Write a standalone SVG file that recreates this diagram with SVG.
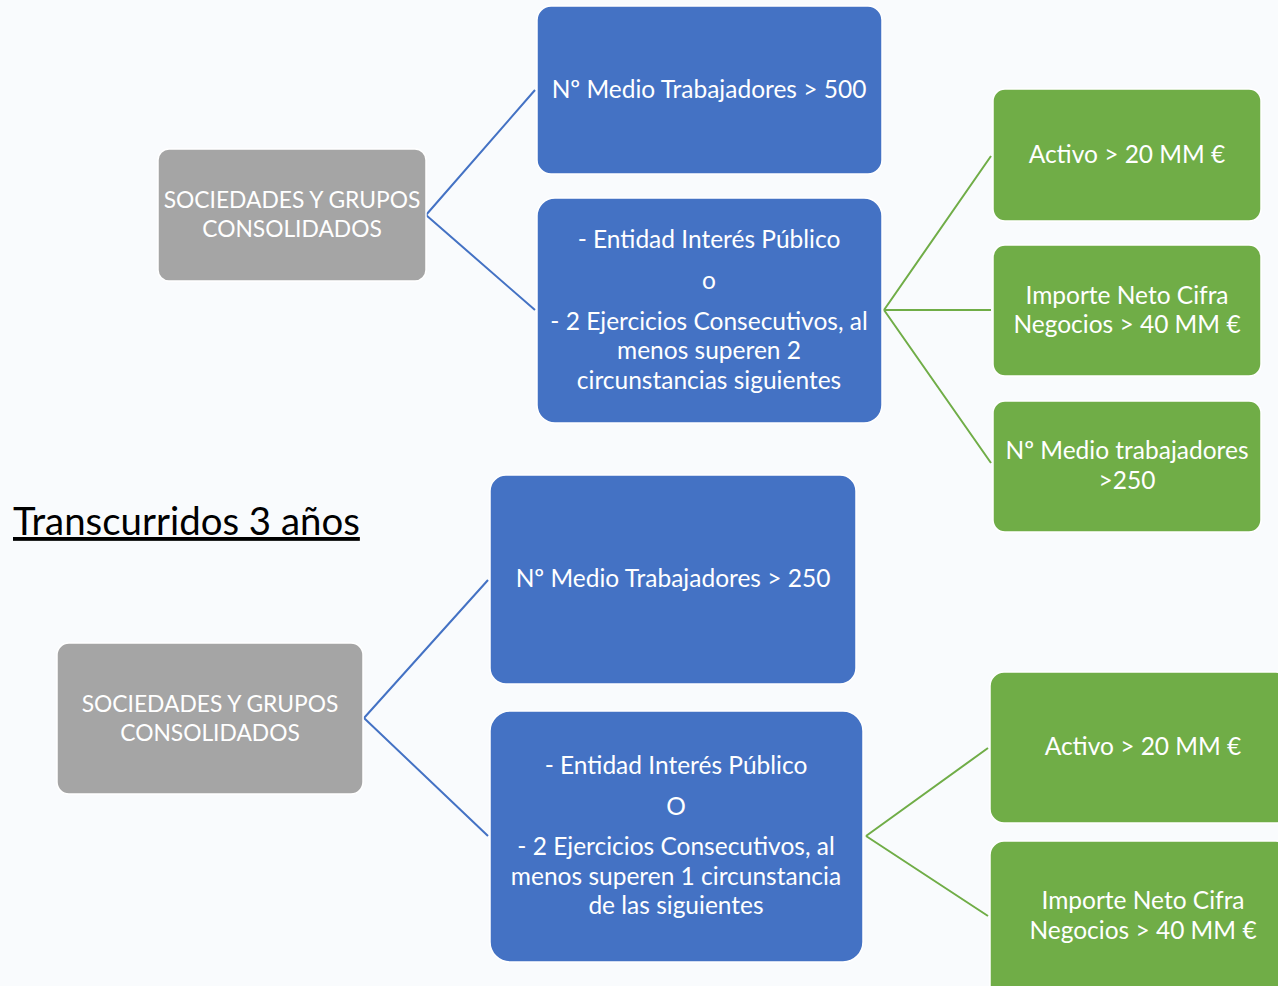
<svg xmlns="http://www.w3.org/2000/svg" width="1278" height="986" viewBox="0 0 1278 986">
<style>
.bg{fill:#f9fbfd}
.gray{fill:#a5a5a5;stroke:#ffffff;stroke-width:1.5}
.blue{fill:#4472c4;stroke:#ffffff;stroke-width:1.5}
.green{fill:#70ad47;stroke:#ffffff;stroke-width:1.5}
.t{font-family:Lato,"Liberation Sans",sans-serif;font-size:24.5px;fill:#ffffff;text-anchor:middle}
.tc{font-size:22.8px}
.cb{stroke:#4472c4;stroke-width:2;fill:none}
.cg{stroke:#70ad47;stroke-width:2;fill:none}
.title{font-family:Lato,"Liberation Sans",sans-serif;font-size:38.4px;fill:#000000;text-decoration:underline}
</style>
<rect class="bg" x="0" y="0" width="1278" height="986"/>
<g id="connectors">
<path class="cb" d="M426,215 L535,90 M426,215 L535,310"/>
<path class="cg" d="M884,310 L991,156 M884,310 L991,310 M884,310 L991,463"/>
<path class="cb" d="M364,718 L488,580 M364,718 L488,836"/>
<path class="cg" d="M866,836 L988,748 M866,836 L988,916"/>
</g>
<g id="top-root"><rect class="gray" x="158" y="149" width="268" height="132" rx="11"/>
<text class="t tc" x="292" y="208">SOCIEDADES Y GRUPOS</text><text class="t tc" x="292" y="237">CONSOLIDADOS</text></g>
<g id="top-b1"><rect class="blue" x="537" y="6" width="345" height="168" rx="14"/>
<text class="t" x="709" y="98">Nº Medio Trabajadores &gt; 500</text></g>
<g id="top-b2"><rect class="blue" x="537" y="198" width="345" height="225" rx="18"/>
<text class="t" x="709" y="248">- Entidad Interés Público</text>
<text class="t" x="709" y="289">o</text>
<text class="t" x="709" y="330">- 2 Ejercicios Consecutivos, al</text>
<text class="t" x="709" y="359">menos superen 2</text>
<text class="t" x="709" y="389">circunstancias siguientes</text></g>
<g id="top-g1"><rect class="green" x="993" y="89" width="268" height="132" rx="12"/>
<text class="t" x="1127" y="163">Activo &gt; 20 MM €</text></g>
<g id="top-g2"><rect class="green" x="993" y="245" width="268" height="131" rx="12"/>
<text class="t" x="1127" y="304">Importe Neto Cifra</text><text class="t" x="1127" y="333">Negocios &gt; 40 MM €</text></g>
<g id="top-g3"><rect class="green" x="993" y="401" width="268" height="131" rx="12"/>
<text class="t" x="1127" y="459">Nº Medio trabajadores</text><text class="t" x="1127" y="489">&gt;250</text></g>
<text class="title" x="13" y="535">Transcurridos 3 años</text>
<g id="bot-root"><rect class="gray" x="57" y="643" width="306" height="151" rx="12"/>
<text class="t tc" x="210" y="712">SOCIEDADES Y GRUPOS</text><text class="t tc" x="210" y="741">CONSOLIDADOS</text></g>
<g id="bot-b1"><rect class="blue" x="490" y="475" width="366" height="209" rx="16"/>
<text class="t" x="673" y="587">Nº Medio Trabajadores &gt; 250</text></g>
<g id="bot-b2"><rect class="blue" x="490" y="711" width="373" height="251" rx="20"/>
<text class="t" x="676" y="774">- Entidad Interés Público</text>
<text class="t" x="676" y="815">O</text>
<text class="t" x="676" y="855">- 2 Ejercicios Consecutivos, al</text>
<text class="t" x="676" y="885">menos superen 1 circunstancia</text>
<text class="t" x="676" y="914">de las siguientes</text></g>
<g id="bot-g1"><rect class="green" x="990" y="672" width="300" height="151" rx="14"/>
<text class="t" x="1143" y="755">Activo &gt; 20 MM €</text></g>
<g id="bot-g2"><rect class="green" x="990" y="841" width="300" height="170" rx="14"/>
<text class="t" x="1143" y="909">Importe Neto Cifra</text><text class="t" x="1143" y="939">Negocios &gt; 40 MM €</text></g>
</svg>
